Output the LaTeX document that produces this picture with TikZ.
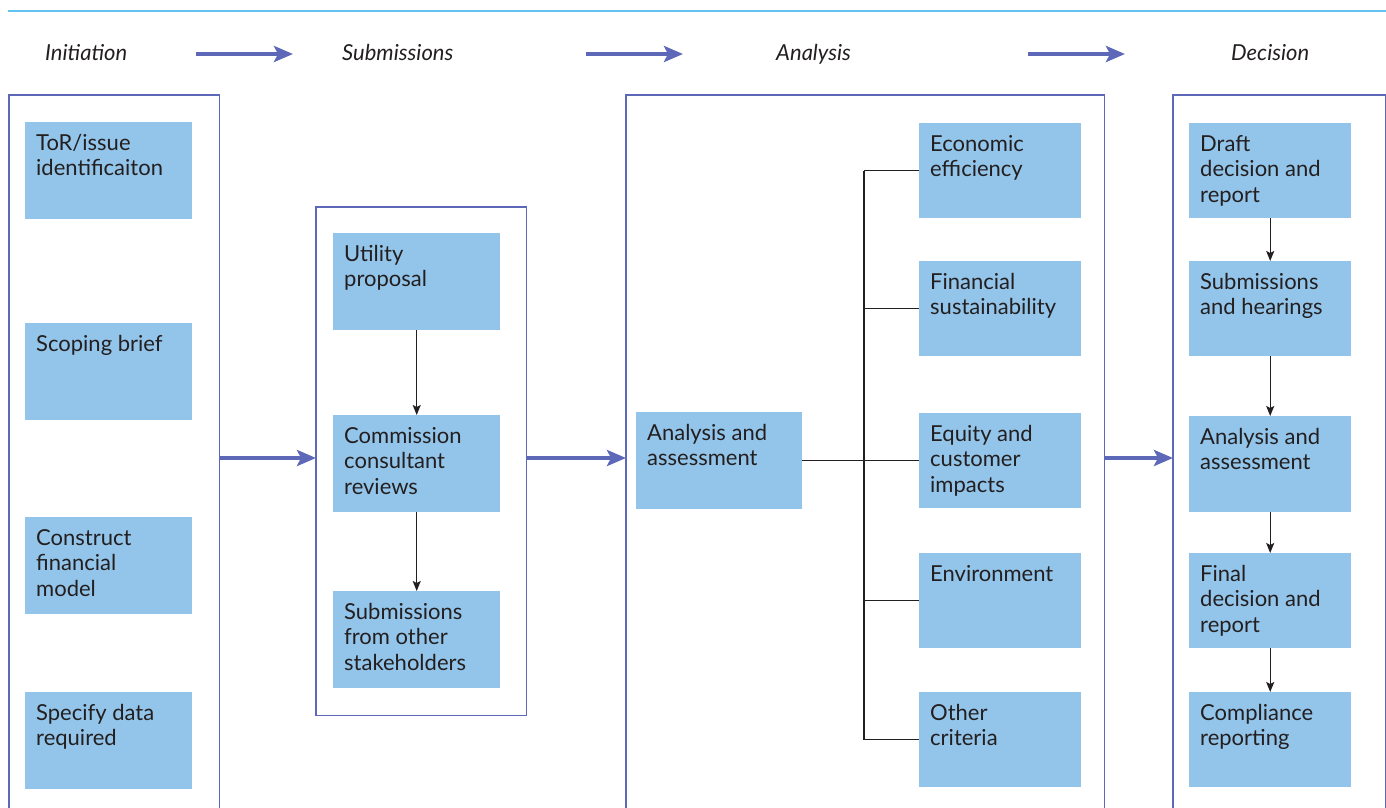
\documentclass[tikz,border=0pt]{standalone}
\usepackage{fontspec}
\setmainfont{Lato}
\usetikzlibrary{arrows.meta,calc}

\definecolor{boxblue}{HTML}{93C5EA}
\definecolor{panelblue}{HTML}{5E68B8}
\definecolor{rulecyan}{HTML}{62C3EF}
\definecolor{ink}{HTML}{231F20}

\tikzset{
  box/.style={fill=boxblue, draw=none, inner sep=0pt, anchor=north west},
  boxtext/.style={anchor=north west, inner sep=0pt, xshift=11pt, yshift=-12pt,
    align=left, text=ink, font=\fontsize{22}{25.5}\selectfont},
  header/.style={anchor=base west, inner sep=0pt, text=ink,
    font=\fontsize{22}{25}\selectfont\itshape},
  panel/.style={draw=panelblue, line width=1.8pt},
  flow/.style={draw=panelblue, line width=4.2pt,
    -{Stealth[length=19pt, width=16pt, inset=4pt]}},
  step arrow/.style={draw=ink, line width=1.2pt,
    -{Stealth[length=10pt, width=8pt, inset=2pt]}},
  branch/.style={draw=ink, line width=1.2pt},
}

% \stage{name}{x}{y}{width}{height}{text}
\newcommand{\stage}[6]{%
  \node[box, minimum width=#4pt, minimum height=#5pt,
        label={[boxtext]north west:{#6}}] (#1) at (#2,#3) {};}

\begin{document}
\begin{tikzpicture}[x=1pt, y=-1pt]
\useasboundingbox (0,0) rectangle (1386,808);

% rule along the top
\draw[rulecyan, line width=1.5pt] (8,11) -- (1386,11);

% phase headings
\node[header] (h1) at (45,61) {Initiation};
\node[header] (h2) at (342,61) {Submissions};
\node[header] (h3) at (776,61) {Analysis};
\node[header] (h4) at (1231,61) {Decision};
\coordinate (ha1) at (196,54); \coordinate (hb1) at (293,54);
\coordinate (ha2) at (586,54); \coordinate (hb2) at (683,54);
\coordinate (ha3) at (1028,54); \coordinate (hb3) at (1125,54);
\draw[flow] (ha1) -- (hb1);
\draw[flow] (ha2) -- (hb2);
\draw[flow] (ha3) -- (hb3);

% phase panels (the three tall ones run off the bottom edge)
\node[inner sep=0pt, anchor=north west, minimum width=210pt, minimum height=720pt] (p1) at (9,95) {};
\node[inner sep=0pt, anchor=north west, minimum width=210pt, minimum height=508pt] (p2) at (316,207) {};
\node[inner sep=0pt, anchor=north west, minimum width=478pt, minimum height=720pt] (p3) at (626,95) {};
\node[inner sep=0pt, anchor=north west, minimum width=212pt, minimum height=720pt] (p4) at (1173,95) {};
\draw[panel] (p1.south west) -- (p1.north west) -- (p1.north east) -- (p1.south east);
\draw[panel] (p2.south west) rectangle (p2.north east);
\draw[panel] (p3.south west) -- (p3.north west) -- (p3.north east) -- (p3.south east);
\draw[panel] (p4.south west) -- (p4.north west) -- (p4.north east) -- (p4.south east);

% Initiation
\stage{i1}{25}{122}{167}{97}{ToR/issue\\identificaiton}
\stage{i2}{25}{323}{167}{97}{Scoping brief}
\stage{i3}{25}{517}{167}{97}{Construct\\financial\\model}
\stage{i4}{25}{692}{167}{97}{Specify data\\required}

% Submissions
\stage{s1}{333}{233}{167}{97}{Utility\\proposal}
\stage{s2}{333}{415}{167}{97}{Commission\\consultant\\reviews}
\stage{s3}{333}{591}{167}{97}{Submissions\\from other\\stakeholders}
\draw[step arrow] (s1.south) -- (s2.north);
\draw[step arrow] (s2.south) -- (s3.north);

% Analysis
\stage{a0}{636}{412}{166}{97}{Analysis and\\assessment}
\stage{c1}{919}{123}{162}{95}{Economic\\efficiency}
\stage{c2}{919}{261}{162}{95}{Financial\\sustainability}
\stage{c3}{919}{413}{162}{95}{Equity and\\customer\\impacts}
\stage{c4}{919}{553}{162}{95}{Environment}
\stage{c5}{919}{692}{162}{95}{Other\\criteria}
\coordinate (trunk) at (864,0);
\draw[branch] (a0.east) -- (trunk |- a0.east);
\draw[branch] (trunk |- c1.west) -- (trunk |- c5.west);
\foreach \c in {c1,c2,c3,c4,c5}
  \draw[branch] (trunk |- \c.west) -- (\c.west);

% Decision
\stage{d1}{1189}{123}{162}{95}{Draft\\decision and\\report}
\stage{d2}{1189}{261}{162}{95}{Submissions\\and hearings}
\stage{d3}{1189}{416}{162}{96}{Analysis and\\assessment}
\stage{d4}{1189}{553}{162}{95}{Final\\decision and\\report}
\stage{d5}{1189}{692}{162}{95}{Compliance\\reporting}
\draw[step arrow] (d1.south) -- (d2.north);
\draw[step arrow] (d2.south) -- (d3.north);
\draw[step arrow] (d3.south) -- (d4.north);
\draw[step arrow] (d4.south) -- (d5.north);

% hand-offs between phases
\coordinate (mid) at (0,458);
\draw[flow] (p1.east |- mid) -- (p2.west |- mid);
\draw[flow] (p2.east |- mid) -- (p3.west |- mid);
\draw[flow] (p3.east |- mid) -- (p4.west |- mid);
\end{tikzpicture}
\end{document}
